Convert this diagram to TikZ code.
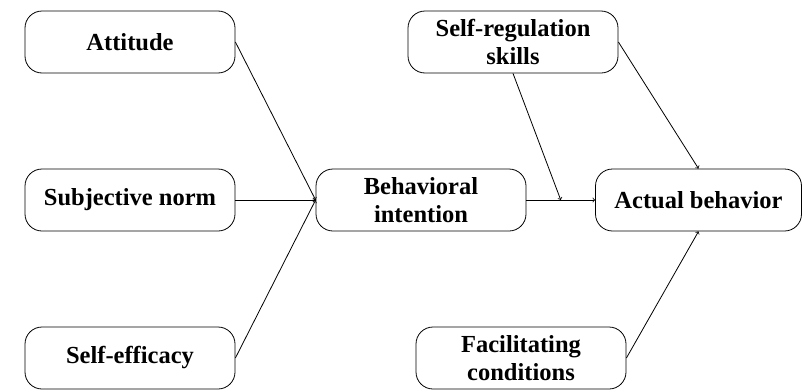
\documentclass[tikz,border=0pt]{standalone}
\usepackage{fontspec}
\setmainfont{Liberation Serif}[BoldFont={Liberation Serif Bold}]
\tikzset{
  factor/.style={draw,thick,rounded corners=17pt,minimum width=210pt,minimum height=62pt,
    align=center,font=\fontsize{24.5}{28}\selectfont\bfseries},
  link/.style={thick,->}
}
\begin{document}
\begin{tikzpicture}[x=1pt,y=-1pt]
		\useasboundingbox (0,0) rectangle (802,391);
		\node[factor] (att) at (130,42) {Attitude};
		\node[factor] (sn) at (130,200) {Subjective norm};
		\node[factor] (se) at (130,358) {Self-efficacy};
		\node[factor] (bi) at (421,200) {Behavioral\\intention};
		\node[factor] (sr) at (513,42) {Self-regulation\\skills};
		\node[factor,minimum width=206pt] (ab) at (698.5,200) {Actual behavior};
		\node[factor] (fc) at (521,358) {Facilitating\\conditions};
		\draw[link] (att.east) -- (bi.west);
		\draw[link] (sn.east) -- (bi.west);
		\draw[link] (se.east) -- (bi.west);
		\draw[link] (bi.east) -- coordinate[pos=0.5] (mod) (ab.west);
		\draw[link] (sr.south) -- (mod);
		\draw[link] (sr.east) -- (ab.north);
		\draw[link] (fc.east) -- (ab.south);
		\end{tikzpicture}
\end{document}
